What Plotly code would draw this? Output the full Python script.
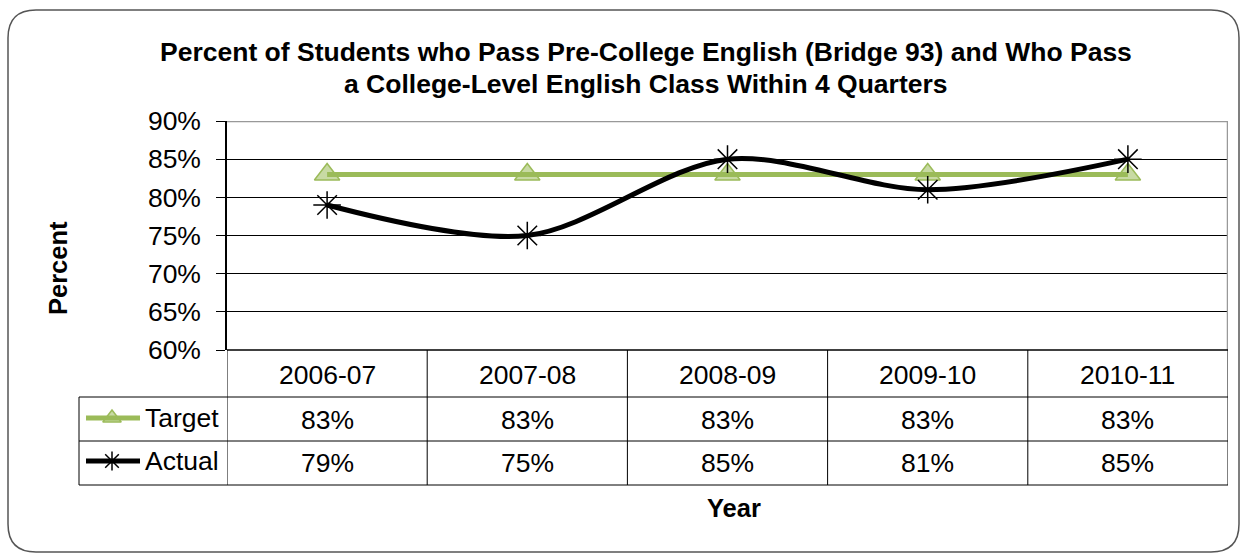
import plotly.graph_objects as go

years = ["2006-07", "2007-08", "2008-09", "2009-10", "2010-11"]
target = [0.83, 0.83, 0.83, 0.83, 0.83]
actual = [0.79, 0.75, 0.85, 0.81, 0.85]
series_names = ["Target", "Actual"]
title_lines = ["Percent of Students who Pass Pre-College English (Bridge 93) and Who Pass",
               "a College-Level English Class Within 4 Quarters"]

W, H = 1241, 555
def px(x): return x / W
def py(y): return 1 - y / H

GREEN = "#9BBB59"
GREEN_FILL = "rgba(155,187,89,0.55)"
FONT = "Liberation Sans, Arial, sans-serif"
FS = 26.5

fig = go.Figure()
fig.add_trace(go.Scatter(x=years, y=target, mode="lines+markers", name="Target",
                         line=dict(color=GREEN, width=5),
                         marker=dict(symbol="triangle-up", size=22, color=GREEN_FILL,
                                     line=dict(color=GREEN, width=1.5)),
                         cliponaxis=False, showlegend=False))
fig.add_trace(go.Scatter(x=years, y=actual, mode="lines+markers", name="Actual",
                         line=dict(color="black", width=5, shape="spline", smoothing=0.9),
                         marker=dict(symbol="asterisk-open", size=23, color="black",
                                     line=dict(color="black", width=1.5)),
                         cliponaxis=False, showlegend=False))

# legend symbols inside the data table (small helper subplot in the legend column)
LX0, LX1, LY0, LY1 = 80, 142, 398, 484
for yy, col, sym, fill in [(418, GREEN, "triangle-up", GREEN_FILL), (461, "black", "asterisk-open", "black")]:
    fig.add_trace(go.Scatter(x=[86, 140], y=[yy, yy], mode="lines", xaxis="x2", yaxis="y2",
                             line=dict(color=col, width=5), showlegend=False, hoverinfo="skip",
                             cliponaxis=False))
    fig.add_trace(go.Scatter(x=[112], y=[yy], mode="markers", xaxis="x2", yaxis="y2",
                             marker=dict(symbol=sym, size=16, color=fill,
                                         line=dict(color=col, width=1.5)),
                             showlegend=False, hoverinfo="skip", cliponaxis=False))

shapes = []
r = 28
x0, x1, y0, y1 = 8, 1239, 10, 552
path = (f"M {px(x0+r)},{py(y0)} L {px(x1-r)},{py(y0)} Q {px(x1)},{py(y0)} {px(x1)},{py(y0+r)} "
        f"L {px(x1)},{py(y1-r)} Q {px(x1)},{py(y1)} {px(x1-r)},{py(y1)} "
        f"L {px(x0+r)},{py(y1)} Q {px(x0)},{py(y1)} {px(x0)},{py(y1-r)} "
        f"L {px(x0)},{py(y0+r)} Q {px(x0)},{py(y0)} {px(x0+r)},{py(y0)} Z")
shapes.append(dict(type="path", path=path, xref="paper", yref="paper",
                   line=dict(color="#555555", width=1.5)))
shapes.append(dict(type="line", xref="x", yref="y", x0=-0.5, x1=4.5, y0=0.90, y1=0.90,
                   line=dict(color="#999999", width=2.5)))
shapes.append(dict(type="line", xref="x", yref="y", x0=4.5, x1=4.5, y0=0.60, y1=0.90,
                   line=dict(color="#999999", width=2.5)))
for yy in [397, 441, 485]:
    shapes.append(dict(type="line", xref="paper", yref="paper", x0=px(79), x1=px(1228),
                       y0=py(yy), y1=py(yy), line=dict(color="black", width=1)))
shapes.append(dict(type="line", xref="paper", yref="paper", x0=px(79), x1=px(79),
                   y0=py(397), y1=py(485), line=dict(color="black", width=1)))
for i in range(len(years) + 1):
    shapes.append(dict(type="line", xref="x", yref="paper", x0=i - 0.5, x1=i - 0.5,
                       y0=py(350), y1=py(485), line=dict(color="black", width=1)))
shapes.append(dict(type="line", xref="x", yref="paper", x0=-0.5, x1=4.5,
                   y0=py(350), y1=py(350), line=dict(color="black", width=1.5)))

annotations = []
for line, yy in zip(title_lines, [52, 84]):
    annotations.append(dict(text="<b>" + line + "</b>", x=px(645.5), y=py(yy),
                            xref="paper", yref="paper", showarrow=False,
                            font=dict(size=FS, color="black", family=FONT),
                            xanchor="center", yanchor="middle"))
for i, yr in enumerate(years):
    for txt, yy in [(yr, 375), (f"{round(target[i]*100)}%", 420), (f"{round(actual[i]*100)}%", 463)]:
        annotations.append(dict(text=txt, x=yr, y=py(yy), xref="x", yref="paper", showarrow=False,
                                font=dict(size=FS, color="black", family=FONT), yanchor="middle"))
for name, yy in zip(series_names, [418, 461]):
    annotations.append(dict(text=name, x=px(143), y=py(yy), xref="paper", yref="paper",
                            showarrow=False, xanchor="left", yanchor="middle",
                            font=dict(size=FS, color="black", family=FONT)))
annotations.append(dict(text="<b>Percent</b>", x=px(58), y=py(268), xref="paper", yref="paper",
                        showarrow=False, textangle=-90, xanchor="center", yanchor="middle",
                        font=dict(size=25.5, color="black", family=FONT)))
annotations.append(dict(text="<b>Year</b>", x=px(733.5), y=py(508), xref="paper", yref="paper",
                        showarrow=False, xanchor="center", yanchor="middle",
                        font=dict(size=25.5, color="black", family=FONT)))

fig.update_layout(
    width=W, height=H, autosize=False, margin=dict(l=0, r=0, t=0, b=0, pad=0),
    paper_bgcolor="white", plot_bgcolor="white",
    xaxis=dict(domain=[px(227), px(1228)], range=[-0.5, 4.5], type="category",
               showticklabels=False, showgrid=False, zeroline=False, showline=False, ticks="",
               automargin=False),
    yaxis=dict(domain=[py(350), py(121)], range=[0.60, 0.90], dtick=0.05, tickformat=".0%",
               showgrid=True, gridcolor="black", gridwidth=1, zeroline=False,
               showline=True, linecolor="black", linewidth=1.5,
               ticks="outside", ticklen=9, tickcolor="black", tickwidth=1,
               ticklabelstandoff=10,
               tickfont=dict(size=FS, color="black", family=FONT), automargin=False),
    xaxis2=dict(domain=[px(LX0), px(LX1)], range=[LX0, LX1], visible=False, anchor="y2",
                fixedrange=True),
    yaxis2=dict(domain=[py(LY1), py(LY0)], range=[LY1, LY0], visible=False, anchor="x2",
                fixedrange=True),
    shapes=shapes, annotations=annotations, font=dict(family=FONT),
)

post = ("document.body.style.margin='0';document.body.style.overflow='hidden';"
        "var gd=document.getElementById('{plot_id}');gd.style.position='fixed';"
        "gd.style.left='0px';gd.style.top='0px';")
fig.write_html("out.html", post_script=post, config={"displayModeBar": False})
